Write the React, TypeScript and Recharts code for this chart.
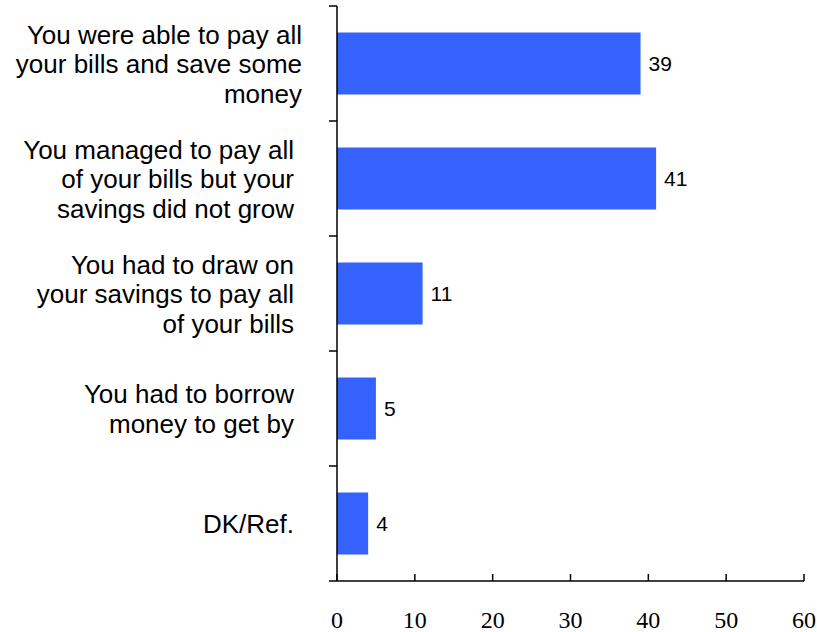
import React from 'react';
import { BarChart, Bar, XAxis, YAxis, LabelList } from 'recharts';

const categories = [
  ['You were able to pay all', 'your bills and save some', 'money'],
  ['You managed to pay all', 'of your bills but your', 'savings did not grow'],
  ['You had to draw on', 'your savings to pay all', 'of your bills'],
  ['You had to borrow', 'money to get by'],
  ['DK/Ref.'],
];
const values = [39, 41, 11, 5, 4];
const xTicks = [0, 10, 20, 30, 40, 50, 60];

const W = 817;
const H = 632;
const TOP = 6;
const BOTTOM = 51;
const AXIS_W = 337;
const BLUE = '#3562fd';
const SANS = '"Liberation Sans", Arial, sans-serif';
const SERIF = '"Liberation Serif", "Times New Roman", serif';
const bandH = (H - TOP - BOTTOM) / categories.length;

const data = categories.map((lines, i) => ({ name: lines.join(' '), value: values[i] }));

function CategoryTick(props: any) {
  const { x, y, index } = props;
  const lines: string[] = categories[index] || [];
  const lineH = 29.5;
  const cap = 19;
  const blockH = (lines.length - 1) * lineH + cap;
  const first = y - blockH / 2 + cap;
  const right = index === 0 ? x - 35 : x - 43;
  return (
    <g>
      <line x1={x - 8} x2={x} y1={y - bandH / 2} y2={y - bandH / 2} stroke="#000" strokeWidth={1.5} />
      {index === categories.length - 1 && (
        <line x1={x - 8} x2={x} y1={y + bandH / 2} y2={y + bandH / 2} stroke="#000" strokeWidth={1.5} />
      )}
      {lines.map((l, i) => (
        <text
          key={i}
          x={right}
          y={first + i * lineH}
          textAnchor="end"
          fontFamily={SANS}
          fontSize={26}
          fill="#000"
        >
          {l}
        </text>
      ))}
    </g>
  );
}

function ValueTick(props: any) {
  const { x, y, payload } = props;
  return (
    <g>
      <line x1={x} x2={x} y1={y} y2={y - 7} stroke="#000" strokeWidth={1.5} />
      <text x={x} y={y + 47} textAnchor="middle" fontFamily={SERIF} fontSize={24} fill="#000">
        {payload.value}
      </text>
    </g>
  );
}

function BarValue(props: any) {
  const { x, y, width, height, value } = props;
  return (
    <text
      x={x + width + 8}
      y={y + height / 2 + 8}
      fontFamily={SANS}
      fontSize={21}
      fill="#000"
    >
      {value}
    </text>
  );
}

export default function App() {
  return (
    <div style={{ position: 'absolute', left: 0, top: 0, background: '#fff' }}>
      <BarChart
        width={W}
        height={H}
        data={data}
        layout="vertical"
        margin={{ top: TOP, right: 13, bottom: 0, left: 0 }}
        barCategoryGap="23%"
      >
        <XAxis
          type="number"
          domain={[0, 60]}
          ticks={xTicks}
          height={BOTTOM}
          axisLine={{ stroke: '#000', strokeWidth: 1.5 }}
          tickLine={false}
          tickSize={0}
          tickMargin={0}
          tick={<ValueTick />}
          interval={0}
        />
        <YAxis
          type="category"
          dataKey="name"
          width={AXIS_W}
          axisLine={{ stroke: '#000', strokeWidth: 1.5 }}
          tickLine={false}
          tickSize={0}
          tickMargin={0}
          tick={<CategoryTick />}
          interval={0}
        />
        <Bar dataKey="value" fill={BLUE} isAnimationActive={false}>
          <LabelList dataKey="value" content={<BarValue />} />
        </Bar>
      </BarChart>
    </div>
  );
}
